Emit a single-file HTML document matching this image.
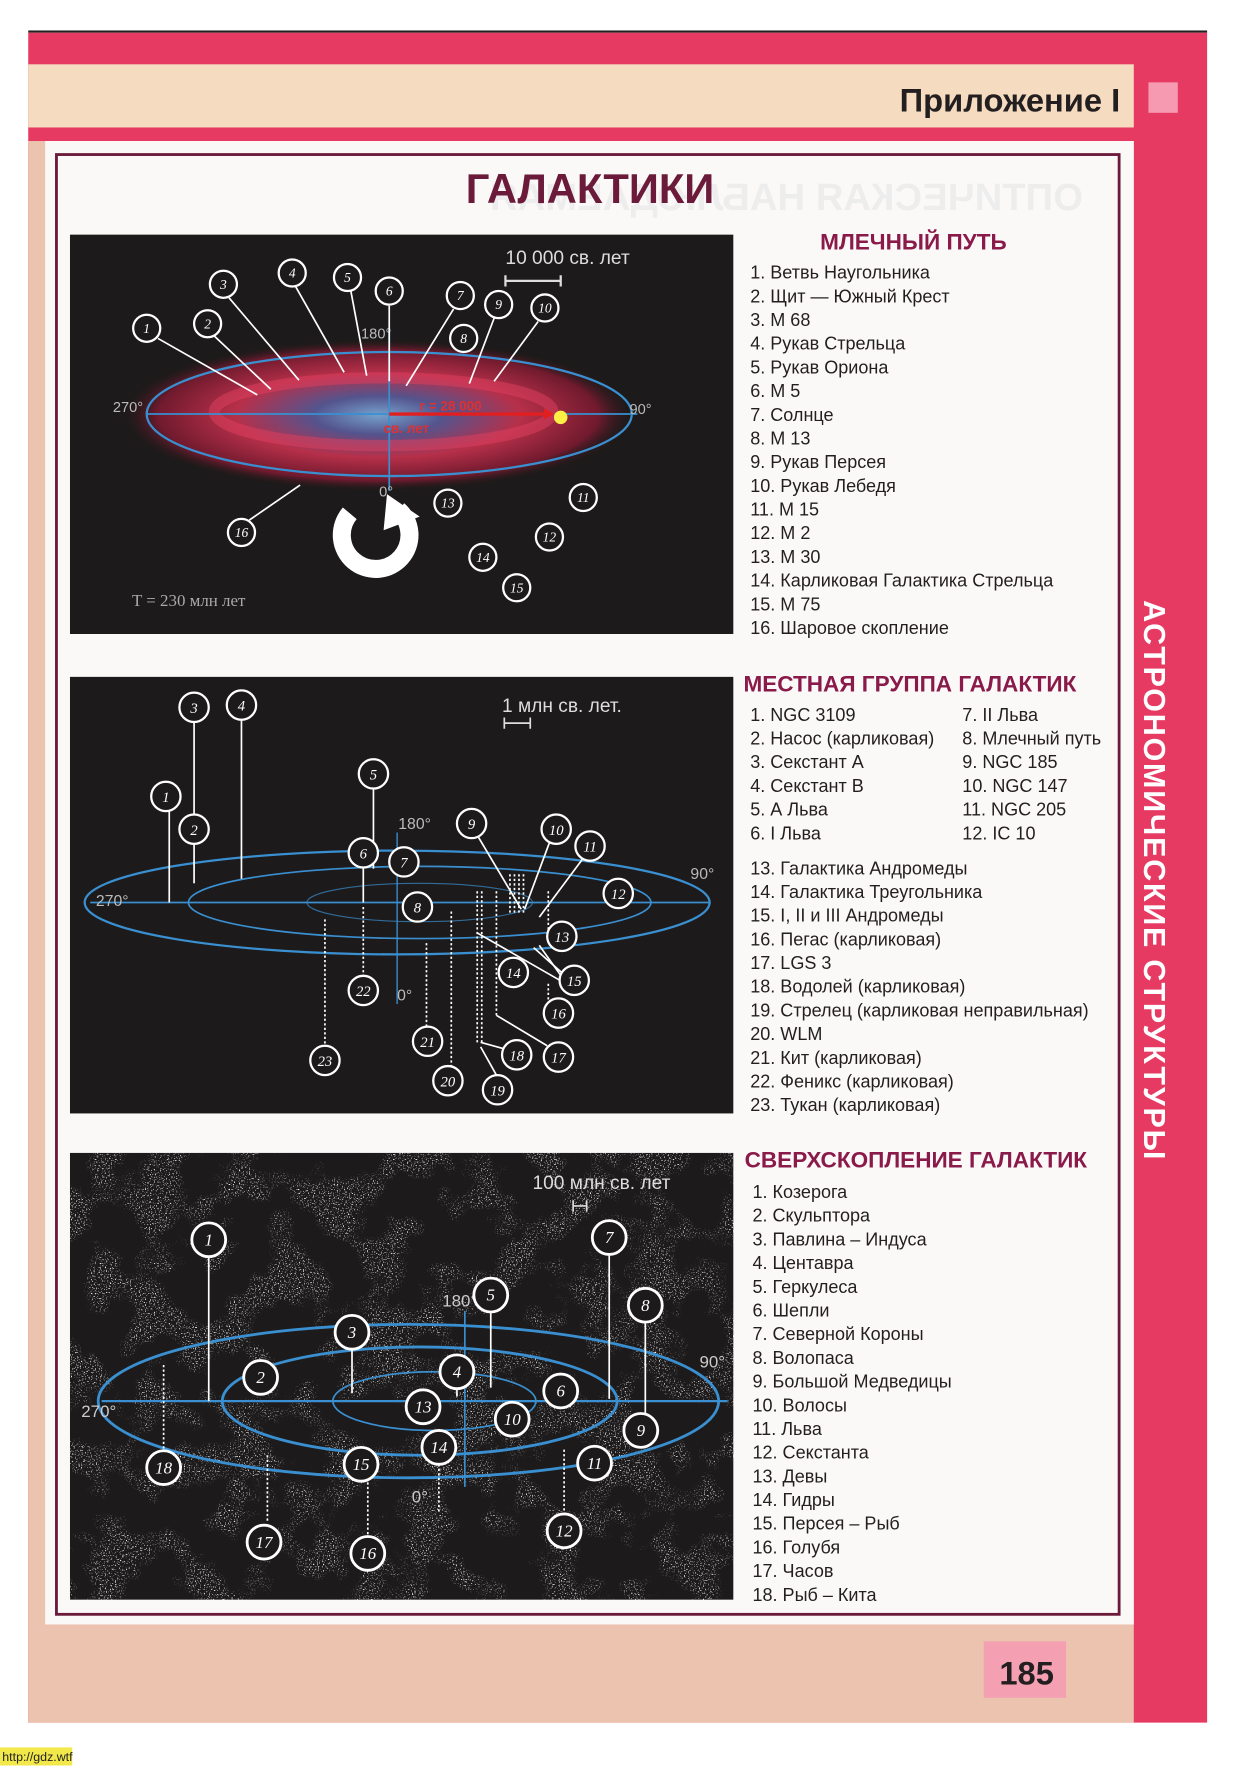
<!DOCTYPE html>
<html><head><meta charset="utf-8"><style>
html,body{margin:0;padding:0;background:#fff;}
svg{display:block;}
.sans{font-family:"Liberation Sans",sans-serif;}
.ser{font-family:"Liberation Serif",serif;font-style:italic;}
</style></head><body>
<svg width="1241" height="1770" viewBox="0 0 1100 1569" xmlns="http://www.w3.org/2000/svg">
<defs>
<radialGradient id="gal" cx="50%" cy="50%" r="50%">
<stop offset="0" stop-color="#7fb0e0"/><stop offset="0.25" stop-color="#5a5a9a"/><stop offset="0.55" stop-color="#c8324f"/><stop offset="0.85" stop-color="#7a1a30"/><stop offset="1" stop-color="#1a1818" stop-opacity="0"/>
</radialGradient>
<filter id="stars" x="0" y="0" width="1" height="1">
<feTurbulence type="fractalNoise" baseFrequency="0.9" numOctaves="1" seed="3" result="n"/>
<feColorMatrix type="matrix" values="0 0 0 0 1  0 0 0 0 1  0 0 0 0 1  9 0 0 0 -5.3" in="n" result="s"/>
<feTurbulence type="fractalNoise" baseFrequency="0.025" numOctaves="3" seed="7" result="m"/>
<feColorMatrix type="matrix" values="0 0 0 0 0 0 0 0 0 0 0 0 0 0 0 7 0 0 0 -3.3" in="m" result="mm"/>
<feComposite in="s" in2="mm" operator="in"/>
</filter>
</defs>
<rect x="25" y="27" width="1045" height="2" fill="#222"/>
<rect x="25" y="29" width="1045" height="1498" fill="#e63a62"/>
<rect x="25" y="57" width="980" height="56" fill="#f5dcc0"/>
<text x="993" y="99" text-anchor="end" class="sans" font-size="29" font-weight="bold" fill="#231f20">Приложение I</text>
<rect x="1018" y="73" width="26" height="27" fill="#f59ab0"/>
<rect x="25" y="125" width="980" height="1402" fill="#ebc3ae"/>
<rect x="40" y="125" width="965" height="1315" fill="#fbf9f8"/>
<rect x="50" y="137" width="942" height="1294" fill="none" stroke="#6b1a3a" stroke-width="2.5"/>
<rect x="872" y="1455" width="73" height="50" fill="#f4a0b2"/>
<text x="910" y="1493" text-anchor="middle" class="sans" font-size="29" font-weight="bold" fill="#231f20">185</text>
<text transform="translate(1014,532) rotate(90)" class="sans" font-size="27" font-weight="bold" fill="#fff" letter-spacing="1.6">АСТРОНОМИЧЕСКИЕ СТРУКТУРЫ</text>
<rect x="0" y="1549" width="64" height="16" fill="#f2e84a"/>
<text x="2" y="1561" class="sans" font-size="11" fill="#222">http://gdz.wtf</text>
<text x="-960" y="186" class="sans" font-size="34" font-weight="bold" fill="#ededed" transform="scale(-1,1)">ОПТИЧЕСКАЯ НАБЛЮДАЕМАЯ</text>
<text x="523" y="180" text-anchor="middle" class="sans" font-size="37" font-weight="bold" fill="#6b1a3a">ГАЛАКТИКИ</text>

<!-- PANEL 1 -->
<rect x="62" y="208" width="588" height="354" fill="#1c1a1a"/>
<ellipse cx="335" cy="368" rx="230" ry="68" fill="url(#gal)" opacity="0.9"/>
<ellipse cx="340" cy="365" rx="150" ry="30" fill="none" stroke="#e04060" stroke-width="10" opacity="0.5"/>
<ellipse cx="345" cy="367" rx="215" ry="55" fill="none" stroke="#3a8fd0" stroke-width="2"/>
<line x1="130" y1="367" x2="565" y2="367" stroke="#3a8fd0" stroke-width="1.5"/>
<line x1="345" y1="290" x2="345" y2="435" stroke="#3a8fd0" stroke-width="1.5"/>
<g class="sans" font-size="13" fill="#bbb"><text x="100" y="365">270°</text><text x="558" y="367">90°</text><text x="320" y="300">180°</text><text x="336" y="440">0°</text></g>
<line x1="345" y1="367" x2="488" y2="367" stroke="#e02020" stroke-width="3"/>
<polygon points="492,367 482,362 482,372" fill="#e02020"/>
<text x="372" y="364" class="sans" font-size="12" font-weight="bold" fill="#e03030">r = 28 000</text>
<text x="340" y="384" class="sans" font-size="12" font-weight="bold" fill="#e03030">св. лет</text>
<circle cx="497" cy="370" r="6" fill="#ffee44"/>
<g stroke="#fff" stroke-width="1.5">
<line x1="140" y1="300" x2="228" y2="350"/><line x1="190" y1="298" x2="240" y2="345"/><line x1="203" y1="264" x2="265" y2="337"/>
<line x1="262" y1="254" x2="305" y2="330"/><line x1="311" y1="258" x2="325" y2="333"/><line x1="345" y1="271" x2="345" y2="338"/>
<line x1="402" y1="274" x2="360" y2="342"/><line x1="438" y1="282" x2="416" y2="340"/><line x1="477" y1="285" x2="438" y2="338"/>
<line x1="221" y1="461" x2="266" y2="430"/>
</g>
<g fill="#1c1a1a" stroke="#fff" stroke-width="2">
<circle cx="130" cy="291" r="12"/><circle cx="184" cy="287" r="12"/><circle cx="198" cy="252" r="12"/><circle cx="259" cy="242" r="12"/><circle cx="308" cy="246" r="12"/><circle cx="345" cy="258" r="12"/><circle cx="408" cy="262" r="12"/><circle cx="411" cy="300" r="12"/><circle cx="442" cy="270" r="12"/><circle cx="483" cy="273" r="12"/><circle cx="517" cy="441" r="12"/><circle cx="487" cy="476" r="12"/><circle cx="397" cy="446" r="12"/><circle cx="428" cy="494" r="12"/><circle cx="458" cy="521" r="12"/><circle cx="214" cy="472" r="12"/>
</g>
<g class="ser" font-size="12" fill="#fff" text-anchor="middle">
<text x="130" y="295">1</text><text x="184" y="291">2</text><text x="198" y="256">3</text><text x="259" y="246">4</text><text x="308" y="250">5</text><text x="345" y="262">6</text><text x="408" y="266">7</text><text x="411" y="304">8</text><text x="442" y="274">9</text><text x="483" y="277">10</text><text x="517" y="445">11</text><text x="487" y="480">12</text><text x="397" y="450">13</text><text x="428" y="498">14</text><text x="458" y="525">15</text><text x="214" y="476">16</text>
</g>
<path d="M353 452 A30 30 0 1 1 310 455" fill="none" stroke="#fff" stroke-width="16"/>
<polygon points="343,438 372,458 340,470" fill="#fff"/>
<text x="448" y="234" class="sans" font-size="17" fill="#ddd">10 000 св. лет</text>
<path d="M448 244 v10 M448 249 h49 M497 244 v10" stroke="#ddd" stroke-width="2" fill="none"/>
<text x="117" y="537" font-family="Liberation Serif,serif" font-size="15" fill="#aaa">T = 230 млн  лет</text>

<!-- PANEL 2 -->
<rect x="62" y="600" width="588" height="387" fill="#1c1a1a"/>
<g fill="none" stroke="#3a8fd0" stroke-width="2">
<ellipse cx="352" cy="800" rx="277" ry="46"/><ellipse cx="372" cy="800" rx="205" ry="32" stroke-width="1.5"/><ellipse cx="372" cy="800" rx="100" ry="17" stroke-width="1" opacity="0.7"/>
<line x1="80" y1="800" x2="630" y2="800" stroke-width="1.5"/><line x1="352" y1="738" x2="352" y2="890" stroke-width="1.2"/>
</g>
<g class="sans" font-size="14" fill="#bbb"><text x="85" y="803">270°</text><text x="612" y="779">90°</text><text x="353" y="735">180°</text><text x="352" y="887">0°</text></g>
<g stroke="#fff" stroke-width="1.5">
<line x1="150" y1="719" x2="150" y2="800"/><line x1="172" y1="640" x2="172" y2="722"/><line x1="172" y1="748" x2="172" y2="783"/><line x1="214" y1="638" x2="214" y2="779"/><line x1="331" y1="699" x2="331" y2="770"/><line x1="322" y1="769" x2="322" y2="800"/>
<line x1="424" y1="742" x2="462" y2="806"/><line x1="487" y1="747" x2="465" y2="806"/><line x1="516" y1="762" x2="478" y2="813"/>
<line x1="423" y1="827" x2="498" y2="870"/><line x1="478" y1="838" x2="498" y2="866"/><line x1="473" y1="840" x2="500" y2="864"/>
<line x1="440" y1="900" x2="485" y2="927"/><line x1="426" y1="928" x2="440" y2="953"/><line x1="426" y1="924" x2="448" y2="930"/>
</g>
<g stroke="#fff" stroke-width="1.5" stroke-dasharray="2,2">
<line x1="322" y1="804" x2="322" y2="865"/><line x1="288" y1="815" x2="288" y2="926"/><line x1="378" y1="836" x2="378" y2="910"/><line x1="400" y1="808" x2="400" y2="945"/>
<line x1="423" y1="790" x2="423" y2="925"/><line x1="427" y1="790" x2="427" y2="925"/><line x1="440" y1="790" x2="440" y2="900"/>
<line x1="452" y1="775" x2="452" y2="810"/><line x1="456" y1="775" x2="456" y2="810"/><line x1="460" y1="775" x2="460" y2="810"/><line x1="464" y1="775" x2="464" y2="810"/>
<line x1="486" y1="790" x2="486" y2="830"/><line x1="486" y1="872" x2="486" y2="890"/>
</g>
<g fill="#1c1a1a" stroke="#fff" stroke-width="2">
<circle cx="172" cy="627" r="13"/><circle cx="214" cy="625" r="13"/><circle cx="147" cy="706" r="13"/><circle cx="172" cy="735" r="13"/><circle cx="331" cy="686" r="13"/><circle cx="322" cy="756" r="13"/><circle cx="358" cy="764" r="13"/><circle cx="370" cy="804" r="13"/><circle cx="418" cy="730" r="13"/><circle cx="493" cy="735" r="13"/><circle cx="523" cy="750" r="13"/><circle cx="548" cy="792" r="13"/><circle cx="498" cy="830" r="13"/><circle cx="455" cy="862" r="13"/><circle cx="509" cy="869" r="13"/><circle cx="495" cy="898" r="13"/><circle cx="495" cy="937" r="13"/><circle cx="458" cy="935" r="13"/><circle cx="441" cy="966" r="13"/><circle cx="397" cy="958" r="13"/><circle cx="379" cy="923" r="13"/><circle cx="322" cy="878" r="13"/><circle cx="288" cy="940" r="13"/>
</g>
<g class="ser" font-size="13" fill="#fff" text-anchor="middle">
<text x="172" y="632">3</text><text x="214" y="630">4</text><text x="147" y="711">1</text><text x="172" y="740">2</text><text x="331" y="691">5</text><text x="322" y="761">6</text><text x="358" y="769">7</text><text x="370" y="809">8</text><text x="418" y="735">9</text><text x="493" y="740">10</text><text x="523" y="755">11</text><text x="548" y="797">12</text><text x="498" y="835">13</text><text x="455" y="867">14</text><text x="509" y="874">15</text><text x="495" y="903">16</text><text x="495" y="942">17</text><text x="458" y="940">18</text><text x="441" y="971">19</text><text x="397" y="963">20</text><text x="379" y="928">21</text><text x="322" y="883">22</text><text x="288" y="945">23</text>
</g>
<text x="445" y="631" class="sans" font-size="17" fill="#ddd">1 млн св. лет.</text>
<path d="M447 636 v10 M447 641 h23 M470 636 v10" stroke="#ddd" stroke-width="1.5" fill="none"/>

<!-- PANEL 3 -->
<rect x="62" y="1022" width="588" height="396" fill="#1c1a1a"/>
<rect x="62" y="1022" width="588" height="396" fill="#fff" filter="url(#stars)" opacity="0.9"/>
<g fill="none" stroke="#3a8fd0" stroke-width="2.5">
<ellipse cx="362" cy="1242" rx="275" ry="68"/><ellipse cx="372" cy="1242" rx="175" ry="48"/><ellipse cx="385" cy="1242" rx="90" ry="26" stroke-width="1.5"/>
<line x1="90" y1="1242" x2="645" y2="1242" stroke-width="2"/><line x1="412" y1="1162" x2="412" y2="1318" stroke-width="1.5"/>
</g>
<g class="sans" font-size="15" fill="#ccc"><text x="72" y="1256">270°</text><text x="620" y="1212">90°</text><text x="392" y="1158">180°</text><text x="365" y="1332">0°</text></g>
<g stroke="#fff" stroke-width="1.5">
<line x1="185" y1="1115" x2="185" y2="1242"/><line x1="312" y1="1197" x2="312" y2="1235"/><line x1="405" y1="1232" x2="405" y2="1238"/><line x1="435" y1="1164" x2="435" y2="1230"/><line x1="540" y1="1113" x2="540" y2="1240"/><line x1="572" y1="1173" x2="572" y2="1255"/>
</g>
<g stroke="#fff" stroke-width="1.5" stroke-dasharray="2,2">
<line x1="145" y1="1210" x2="145" y2="1285"/><line x1="237" y1="1290" x2="237" y2="1350"/><line x1="326" y1="1310" x2="326" y2="1360"/><line x1="389" y1="1298" x2="389" y2="1340"/><line x1="500" y1="1285" x2="500" y2="1340"/>
</g>
<g fill="#1c1a1a" stroke="#fff" stroke-width="2.5">
<circle cx="185" cy="1099" r="15"/><circle cx="231" cy="1221" r="15"/><circle cx="312" cy="1181" r="15"/><circle cx="405" cy="1216" r="15"/><circle cx="435" cy="1148" r="15"/><circle cx="497" cy="1233" r="15"/><circle cx="540" cy="1097" r="15"/><circle cx="572" cy="1157" r="15"/><circle cx="568" cy="1268" r="15"/><circle cx="454" cy="1258" r="15"/><circle cx="527" cy="1297" r="15"/><circle cx="500" cy="1357" r="15"/><circle cx="375" cy="1247" r="15"/><circle cx="389" cy="1283" r="15"/><circle cx="320" cy="1298" r="15"/><circle cx="326" cy="1377" r="15"/><circle cx="234" cy="1367" r="15"/><circle cx="145" cy="1301" r="15"/>
</g>
<g class="ser" font-size="15" fill="#fff" text-anchor="middle">
<text x="185" y="1104">1</text><text x="231" y="1226">2</text><text x="312" y="1186">3</text><text x="405" y="1221">4</text><text x="435" y="1153">5</text><text x="497" y="1238">6</text><text x="540" y="1102">7</text><text x="572" y="1162">8</text><text x="568" y="1273">9</text><text x="454" y="1263">10</text><text x="527" y="1302">11</text><text x="500" y="1362">12</text><text x="375" y="1252">13</text><text x="389" y="1288">14</text><text x="320" y="1303">15</text><text x="326" y="1382">16</text><text x="234" y="1372">17</text><text x="145" y="1306">18</text>
</g>
<text x="472" y="1054" class="sans" font-size="17" fill="#ddd">100 млн  св. лет</text>
<path d="M508 1064 v10 M508 1069 h12 M520 1064 v10" stroke="#ddd" stroke-width="1.5" fill="none"/>

<!-- LISTS -->
<g class="sans" font-size="20" font-weight="bold" fill="#8a1a4a">
<text x="727" y="221">МЛЕЧНЫЙ ПУТЬ</text>
<text x="659" y="613">МЕСТНАЯ ГРУППА ГАЛАКТИК</text>
<text x="660" y="1035">СВЕРХСКОПЛЕНИЕ ГАЛАКТИК</text>
</g>
<g class="sans" font-size="16" fill="#231f20">
<text x="665" y="247">1. Ветвь Наугольника</text>
<text x="665" y="268">2. Щит — Южный Крест</text>
<text x="665" y="289">3. М 68</text>
<text x="665" y="310">4. Рукав Стрельца</text>
<text x="665" y="331">5. Рукав Ориона</text>
<text x="665" y="352">6. М 5</text>
<text x="665" y="373">7. Солнце</text>
<text x="665" y="394">8. М 13</text>
<text x="665" y="415">9. Рукав Персея</text>
<text x="665" y="436">10. Рукав Лебедя</text>
<text x="665" y="457">11. М 15</text>
<text x="665" y="478">12. М 2</text>
<text x="665" y="499">13. М 30</text>
<text x="665" y="520">14. Карликовая Галактика Стрельца</text>
<text x="665" y="541">15. М 75</text>
<text x="665" y="562">16. Шаровое скопление</text>

<text x="665" y="639">1. NGC 3109</text>
<text x="665" y="660">2. Насос (карликовая)</text>
<text x="665" y="681">3. Секстант А</text>
<text x="665" y="702">4. Секстант В</text>
<text x="665" y="723">5. А Льва</text>
<text x="665" y="744">6. I Льва</text>
<text x="853" y="639">7. II Льва</text>
<text x="853" y="660">8. Млечный путь</text>
<text x="853" y="681">9. NGC 185</text>
<text x="853" y="702">10. NGC 147</text>
<text x="853" y="723">11. NGC 205</text>
<text x="853" y="744">12. IC 10</text>
<text x="665" y="775">13. Галактика Андромеды</text>
<text x="665" y="796">14. Галактика Треугольника</text>
<text x="665" y="817">15. I, II и III Андромеды</text>
<text x="665" y="838">16. Пегас (карликовая)</text>
<text x="665" y="859">17. LGS 3</text>
<text x="665" y="880">18. Водолей (карликовая)</text>
<text x="665" y="901">19. Стрелец (карликовая неправильная)</text>
<text x="665" y="922">20. WLM</text>
<text x="665" y="943">21. Кит (карликовая)</text>
<text x="665" y="964">22. Феникс (карликовая)</text>
<text x="665" y="985">23. Тукан (карликовая)</text>

<text x="667" y="1062">1. Козерога</text>
<text x="667" y="1083">2. Скульптора</text>
<text x="667" y="1104">3. Павлина – Индуса</text>
<text x="667" y="1125">4. Центавра</text>
<text x="667" y="1146">5. Геркулеса</text>
<text x="667" y="1167">6. Шепли</text>
<text x="667" y="1188">7. Северной Короны</text>
<text x="667" y="1209">8. Волопаса</text>
<text x="667" y="1230">9. Большой Медведицы</text>
<text x="667" y="1251">10. Волосы</text>
<text x="667" y="1272">11. Льва</text>
<text x="667" y="1293">12. Секстанта</text>
<text x="667" y="1314">13. Девы</text>
<text x="667" y="1335">14. Гидры</text>
<text x="667" y="1356">15. Персея – Рыб</text>
<text x="667" y="1377">16. Голубя</text>
<text x="667" y="1398">17. Часов</text>
<text x="667" y="1419">18. Рыб – Кита</text>
</g>
</svg>
</body></html>
